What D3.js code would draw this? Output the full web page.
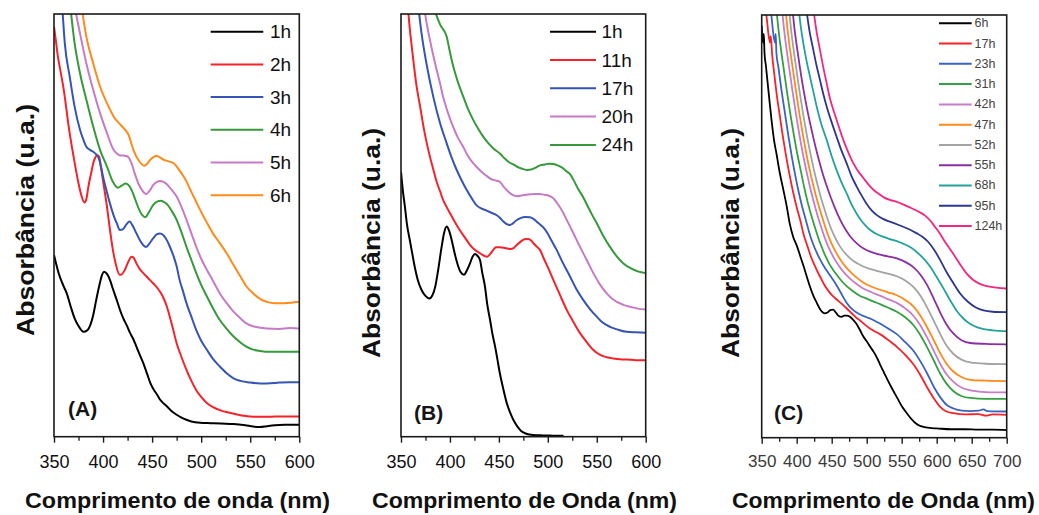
<!DOCTYPE html>
<html><head><meta charset="utf-8">
<script src="https://cdn.jsdelivr.net/npm/d3@7"></script>
<style>
body{margin:0;background:#fff;}
svg{display:block;font-family:"Liberation Sans",Arial,sans-serif;}
</style>
</head><body>
<svg id="chart" width="1039" height="515"></svg>
<script>
// ---------- tick labels ----------
const xTicksAB = [350,400,450,500,550,600];
const xMinorAB = [375,425,475,525,575];
const xTicksC = [350,400,450,500,550,600,650,700];
const xMinorC = [375,425,475,525,575,625,675];

// ---------- Panel A (1h..6h) ----------
const labelsA = ["1h","2h","3h","4h","5h","6h"];
const colorsA = ["#000000","#f5222a","#3455b5","#36993a","#c77bc6","#ff8a1c"];
const a1h = [[350,43.0],[355,38.5],[360,35.5],[363,33.9],[367,30.8],[371,28.0],[375,26.2],[380,24.8],[384,25.2],[387,26.4],[390,28.8],[393,32.3],[396,35.6],[399,38.3],[401,39.0],[404,38.5],[407,37.1],[410,35.0],[414,32.3],[418,29.5],[421,27.8],[424,26.4],[427,24.8],[431,23.0],[434,21.3],[437,19.6],[441,17.4],[445,14.8],[448,12.8],[452,11.0],[455,10.0],[458,8.8],[462,7.8],[465,7.2],[470,6.0],[475,5.2],[480,4.5],[485,4.0],[490,3.6],[499,3.3],[510,3.2],[520,3.1],[533,3.0],[545,2.7],[553,2.4],[560,2.3],[567,2.5],[575,2.7],[585,2.8],[600,2.8]];
const a2h = [[350,97.0],[352,93.5],[354,89.9],[357,86.0],[360,82.0],[365,73.3],[370,66.2],[375,59.9],[378,57.0],[381,55.4],[383,56.2],[385,59.1],[388,62.5],[390,64.7],[392,66.0],[394,66.6],[396,66.2],[398,63.5],[401,59.0],[404,54.4],[407,49.0],[410,44.2],[413,40.8],[417,38.3],[419,38.4],[422,39.4],[425,41.0],[429,42.6],[431,42.4],[434,41.0],[437,39.8],[441,38.7],[446,37.5],[451,36.3],[456,35.0],[461,33.1],[465,30.8],[468,28.4],[471,25.8],[475,22.1],[480,18.8],[485,15.8],[490,13.2],[495,11.0],[500,9.4],[506,7.9],[512,7.0],[519,6.3],[530,5.6],[540,5.1],[550,4.8],[560,4.7],[570,4.7],[580,4.8],[590,4.8],[600,4.8]];
const a3h = [[358.8,100.3],[361,93.1],[366,85.2],[371,78.1],[376.5,72.6],[380,70.2],[383,68.6],[387,67.8],[390,67.4],[393,66.8],[395,66.2],[398,63.8],[400,61.5],[404,57.8],[407,55.2],[411,52.2],[414,50.5],[417,48.9],[420,49.0],[424,50.3],[427,50.9],[430,50.0],[434,48.1],[438,46.3],[441,45.3],[444,44.9],[447,45.6],[451,46.9],[455,47.9],[458,48.1],[461,47.8],[465,46.5],[468,45.0],[472,42.6],[475,40.3],[478,37.1],[481,34.8],[485,31.6],[490,28.4],[495,25.2],[500,22.7],[506,20.5],[512,18.4],[519,16.6],[526,15.0],[533,13.8],[540,13.2],[550,12.8],[560,12.6],[567,12.6],[580,12.8],[590,12.9],[600,12.9]];
const a4h = [[367.3,100.3],[371,93.1],[376.5,86.0],[383,79.7],[390,73.3],[397,67.8],[404,63.9],[410,60.3],[415,58.9],[419,59.4],[423,59.9],[426,59.5],[429,58.4],[433,56.0],[437,53.6],[440,52.4],[443,51.9],[447,53.2],[451,54.8],[455,55.6],[459,55.8],[463,55.4],[466,54.8],[470,53.4],[475,51.3],[480,48.3],[485,44.9],[490,41.8],[495,38.7],[500,35.9],[506,33.1],[512,30.4],[519,27.6],[526,25.5],[533,23.7],[540,22.3],[546,21.3],[553,20.6],[560,20.3],[570,20.1],[580,20.1],[600,20.1]];
const a5h = [[372.3,100.3],[376.5,95.4],[383,88.3],[390,82.0],[397,76.5],[404,71.8],[410,68.2],[414,67.0],[417,66.6],[421,66.5],[424,66.4],[427,65.7],[429,64.7],[432,62.5],[436,59.9],[440,58.2],[444,57.4],[448,58.4],[451,59.5],[455,60.3],[458,60.5],[462,60.2],[466,59.5],[470,58.4],[475,56.8],[480,54.3],[485,51.3],[490,48.1],[495,44.9],[500,42.1],[506,39.4],[512,36.9],[519,33.9],[526,31.6],[533,29.6],[540,28.0],[546,26.8],[555,26.0],[567,25.6],[580,25.5],[590,25.7],[600,25.6]];
const a6h = [[379,100.3],[383,94.6],[390,88.3],[397,82.8],[404,78.9],[412,75.3],[417,74.0],[421,73.0],[426,71.4],[431,67.8],[437,65.1],[442,64.1],[445,64.6],[448,65.5],[451,66.1],[454,66.4],[458,66.1],[461,65.6],[466,65.2],[472,64.7],[476,63.6],[480,62.3],[485,60.4],[489,58.4],[494,56.0],[499,53.6],[505,51.0],[512,48.1],[519,45.8],[526,43.4],[533,40.6],[540,37.9],[546,35.6],[553,33.9],[560,32.6],[567,31.9],[575,31.6],[585,31.6],[592,31.7],[600,31.9]];

// ---------- Panel B (1h..24h) ----------
const labelsB = ["1h","11h","17h","20h","24h"];
const colorsB = ["#000000","#f5222a","#3455b5","#c77bc6","#36993a"];
const b1h = [[350,62.7],[352,58.0],[354,54.4],[356,50.4],[359,46.5],[362,42.7],[364,40.2],[367,37.2],[371,34.7],[375,33.3],[379,32.7],[382,33.4],[385,35.5],[388,39.5],[391.5,44.9],[394,48.2],[396.7,49.7],[399,48.8],[401.8,46.5],[405,43.2],[408.6,40.2],[411,38.9],[414.4,38.3],[417,39.2],[420.5,41.0],[423,42.5],[425.6,43.2],[428,42.8],[430.7,41.8],[433,38.8],[435.8,35.5],[438,31.5],[441,27.6],[443.5,24.2],[446,21.5],[448.5,18.3],[451,15.0],[454,11.8],[458,8.0],[461,6.0],[465,3.9],[469,2.4],[473,1.3],[478,0.7],[485,0.4],[495,0.3],[505,0.25],[516,0.2]];
const b11h = [[357.5,100.3],[359,96.5],[361,92.3],[366,82.8],[370,77.5],[373,73.3],[376,69.8],[379.6,66.2],[383,63.2],[386.4,60.3],[390,58.0],[393,56.0],[396,54.6],[400,52.9],[405,50.8],[410,48.9],[415,47.2],[420.5,45.4],[425,44.3],[430.7,43.4],[435,42.8],[438,42.6],[441,43.2],[444,44.1],[447,44.8],[451,44.8],[455,44.7],[459,44.5],[462,44.4],[465,44.6],[468,45.3],[472,46.1],[476,46.7],[480,46.8],[483,46.4],[486,45.6],[489,44.9],[492,44.2],[496,42.1],[500,40.1],[505.6,37.1],[512.5,33.5],[519.3,30.0],[526,27.2],[532.9,24.5],[540,22.3],[546.5,20.5],[553,19.4],[560.2,18.8],[567,18.5],[573.7,18.3],[585,18.2],[592,18.1],[600,18.1]];
const b17h = [[368.4,100.3],[371,95.4],[376,88.3],[383,80.4],[390,74.1],[396.7,69.4],[401,66.5],[406.9,63.1],[412,60.6],[417,58.4],[422,56.5],[427,54.8],[432,54.0],[437.5,53.5],[442,53.0],[447.8,52.4],[451,51.8],[454.6,50.9],[458,50.3],[461.4,50.1],[464,50.4],[468,51.2],[472,51.7],[476.7,52.0],[481.8,51.9],[486,51.4],[490,50.6],[495.4,49.5],[500,48.0],[504,46.3],[509,44.2],[515,41.3],[522.7,37.9],[529,35.0],[536.3,32.3],[543,30.2],[550,28.4],[556,27.0],[563.5,26.0],[572,25.3],[580.6,24.8],[590,24.7],[600,24.6]];
const b20h = [[374.5,100.3],[377,96.8],[379.6,93.8],[383,90.2],[386.4,86.8],[390,83.5],[393,80.4],[398,76.6],[403.3,73.3],[408,70.8],[413.5,68.6],[418,66.6],[423.7,64.7],[429,63.4],[434,62.3],[438,61.6],[442.5,60.9],[447,60.6],[451,60.3],[455,59.1],[460,57.9],[464,57.2],[468.2,56.9],[474,57.1],[480,57.3],[486,57.4],[492,57.4],[497,57.2],[501,57.0],[505.6,56.4],[510,55.1],[515,53.3],[519.3,51.3],[526,48.2],[532.9,44.9],[540,41.7],[546.5,38.7],[553,36.1],[560.2,33.9],[567,32.4],[577.2,31.2],[585,30.7],[592,30.3],[600,30.1]];
const b24h = [[385.2,100.3],[390,97.5],[396.7,94.6],[400,91.0],[403.5,87.5],[408,84.0],[413.7,80.4],[418,77.8],[423.9,74.9],[429,72.8],[434,71.0],[439,69.5],[444.3,68.2],[451,67.0],[456,65.8],[460,65.0],[464.8,64.4],[470,63.7],[475,63.3],[479,63.1],[483,63.2],[487,63.6],[492,64.2],[497,64.4],[501,64.6],[505.6,64.5],[510,64.2],[515,63.6],[518,63.0],[522.7,62.1],[527,60.4],[531,58.6],[536.3,56.6],[541,54.4],[545,52.6],[550,50.5],[556,47.8],[563.5,44.9],[570,42.8],[577.2,41.0],[585,39.8],[592,39.1],[600,38.7]];

// ---------- Panel C (6h..124h) ----------
const labelsC = ["6h","17h","23h","31h","42h","47h","52h","55h","68h","95h","124h"];
const colorsC = ["#000000","#f5222a","#3a62c4","#35a040","#c67dc8","#ff8a1c","#a3a3a3","#8b2fa0","#23a29b","#2d3592","#f2277f"];
const c6h = [[350,97.5],[351,95.0],[352,93.5],[353,95.5],[354,91.0],[356,88.0],[360,81.5],[364,75.2],[368,70.0],[371,67.3],[376,62.5],[381,58.6],[386,54.5],[390,50.7],[395,47.5],[400,45.5],[405,43.0],[410,40.5],[415,37.8],[419,35.7],[424,33.5],[429,31.8],[433,30.5],[436,29.8],[440,29.4],[444,29.6],[448,30.2],[452,30.3],[456,29.6],[460,28.8],[464,28.6],[468,28.9],[472,28.9],[476,28.6],[480,28.0],[485,27.0],[490,25.6],[495,24.0],[500,22.8],[505,21.5],[510,20.3],[515,18.8],[520,17.0],[525,15.3],[530,13.6],[535,12.0],[540,10.5],[545,9.0],[550,7.5],[555,6.3],[560,5.2],[565,4.2],[570,3.4],[575,2.9],[580,2.6],[590,2.3],[600,2.2],[620,2.0],[640,2.0],[660,1.9],[680,1.9],[700,1.8]];
const c17h = [[356,101],[358,98.0],[360,95.0],[362,93.5],[363,95.0],[365,90.5],[368,86.0],[372,80.5],[376,76.0],[380,71.5],[385,66.5],[390,62.0],[395,58.0],[400,54.5],[405,51.5],[410,48.0],[415,45.5],[420,43.0],[425,41.0],[430,39.2],[435,37.6],[440,36.0],[445,34.8],[450,33.8],[455,33.0],[460,32.3],[465,31.6],[470,30.8],[475,30.0],[480,29.2],[485,28.4],[490,27.8],[495,27.1],[500,26.4],[505,25.8],[510,25.3],[519,24.5],[530,23.2],[543,21.5],[555,19.6],[567,17.3],[577,14.7],[586,12.0],[596,9.3],[605,7.3],[614,6.2],[624,5.8],[640,5.5],[660,5.6],[670,5.2],[680,5.5],[700,5.4]];
const c23h = [[363.5,100.5],[365,98.0],[367,95.0],[369,93.5],[370,95.5],[371,91.0],[374,87.5],[378,82.5],[383,77.0],[388,71.5],[393,66.5],[398,62.0],[403,58.0],[408,54.5],[413,51.5],[418,48.5],[423,46.0],[428,44.0],[433,42.3],[438,40.8],[443,39.5],[448,38.3],[455,36.6],[462,34.6],[471,32.0],[480,30.3],[490,29.2],[500,28.5],[510,27.8],[519,27.0],[530,25.9],[543,24.5],[555,22.6],[567,20.5],[577,18.0],[586,15.3],[596,12.0],[605,9.6],[614,7.8],[624,6.9],[636,6.4],[648,6.3],[660,6.4],[667,6.7],[672,6.3],[700,6.2]];
const c31h = [[371.5,100.5],[374,96.5],[377,92.5],[381,87.8],[386,82.0],[391,76.5],[396,71.5],[401,67.0],[406,63.0],[411,59.0],[416,55.5],[421,52.5],[426,49.8],[431,47.2],[436,45.0],[441,43.0],[447,41.0],[455,39.0],[463,37.3],[471,35.9],[480,34.7],[490,33.6],[500,32.9],[510,32.2],[519,31.6],[530,30.8],[543,29.8],[555,28.5],[567,26.6],[577,24.2],[586,21.5],[596,18.2],[605,15.2],[614,12.8],[624,11.0],[636,9.8],[648,9.4],[670,9.2],[700,9.2]];
const c42h = [[379.5,100.5],[382,96.5],[385,92.5],[389,87.8],[394,82.0],[399,76.5],[404,71.5],[409,67.0],[414,63.0],[419,59.3],[424,56.0],[429,53.0],[434,50.3],[439,47.8],[444,45.6],[450,43.5],[458,41.2],[466,39.4],[475,37.8],[485,36.4],[495,35.3],[507,34.4],[519,33.6],[530,32.8],[543,31.9],[555,30.6],[567,28.8],[577,26.5],[586,23.8],[596,20.5],[605,17.5],[614,15.0],[624,13.2],[636,11.8],[648,11.2],[670,10.8],[700,10.7]];
const c47h = [[384.5,100.5],[387,96.5],[390,92.5],[394,87.8],[399,82.0],[404,76.5],[409,71.5],[414,67.0],[419,63.0],[424,59.5],[429,56.3],[434,53.5],[439,50.8],[444,48.3],[449,46.2],[455,44.2],[462,42.2],[470,40.4],[478,39.0],[487,37.7],[495,36.7],[507,35.7],[519,35.0],[530,34.4],[543,33.7],[555,32.6],[567,31.0],[577,28.8],[586,26.2],[596,23.0],[605,20.0],[614,17.5],[624,15.6],[636,14.3],[648,13.7],[670,13.5],[700,13.4]];
const c52h = [[389.5,100.5],[392,96.5],[395,92.5],[399,87.8],[404,82.0],[409,76.8],[414,72.0],[419,67.7],[424,63.8],[429,60.3],[434,57.2],[439,54.4],[444,51.8],[449,49.5],[455,47.3],[462,45.2],[470,43.5],[478,42.2],[487,41.2],[495,40.5],[507,39.8],[519,39.3],[530,38.8],[543,38.2],[555,37.2],[567,35.6],[577,33.5],[586,30.9],[596,27.6],[605,24.5],[614,21.8],[624,19.8],[636,18.4],[648,17.8],[670,17.5],[700,17.4]];
const c55h = [[394.5,100.5],[397,96.5],[400,92.8],[404,88.2],[409,83.0],[414,78.5],[419,74.5],[424,70.8],[429,67.4],[434,64.3],[439,61.5],[444,59.0],[449,56.7],[455,54.2],[462,51.6],[470,49.2],[478,47.3],[487,45.8],[495,44.8],[507,43.9],[519,43.3],[530,42.9],[543,42.4],[555,41.6],[567,40.3],[577,38.5],[586,36.2],[596,32.8],[605,29.6],[614,26.8],[624,24.6],[636,23.0],[648,22.4],[670,22.2],[700,22.1]];
const c68h = [[403.5,100.5],[406,97.0],[409.5,93.3],[414,89.2],[419,85.4],[424,81.7],[428.6,78.3],[435,74.3],[442.9,70.4],[450,66.6],[457,63.3],[464,60.4],[471.4,57.8],[478,55.3],[485.7,53.0],[493,51.2],[500,49.9],[507,48.9],[514,48.2],[524,47.5],[533,47.0],[543,46.5],[552,45.9],[562,45.1],[571,44.0],[580,42.6],[590,40.6],[600,38.0],[610,35.2],[620,32.3],[629,29.9],[638,28.2],[648,26.9],[658,26.1],[667,25.7],[680,25.4],[700,25.2]];
const c95h = [[414.5,100.5],[418,96.5],[423.8,91.7],[428,88.3],[433.3,84.6],[438,81.3],[442.9,78.3],[450,74.6],[457,71.2],[464,67.9],[471.4,64.9],[478,62.0],[485.7,59.4],[493,57.2],[500,55.3],[507,53.8],[515,52.6],[524,51.7],[533,51.1],[543,50.5],[552,49.9],[562,49.2],[571,48.4],[580,47.5],[588,46.3],[597,44.3],[605,42.0],[614,39.2],[624,36.5],[634,34.0],[645,32.1],[656,30.8],[667,30.1],[680,29.8],[700,29.7]];
const c124h = [[424.5,100.5],[428,96.5],[433.3,91.7],[438,87.6],[442.9,83.8],[447,80.6],[452.4,77.5],[460,73.7],[466.7,70.4],[474,67.4],[481,64.9],[488,63.0],[495,61.5],[502,60.0],[510,58.6],[518,57.6],[525,56.8],[534,56.2],[543,55.8],[552,55.2],[560,54.6],[568,54.0],[575,53.4],[583,52.6],[590,51.5],[597,50.0],[605,48.2],[612,46.3],[620,44.4],[628,42.4],[635,40.6],[642,39.0],[650,37.6],[660,36.5],[670,35.9],[685,35.5],[700,35.3]];

// ---------- build panels ----------
const svg = d3.select("#chart");

const panels = [
  {id:"A", left:54, right:299.3, top:14, bottom:436.7, xDomain:[350,600], ticks:xTicksAB, minor:xMinorAB,
   series:[a1h,a2h,a3h,a4h,a5h,a6h], labels:labelsA, colors:colorsA, lw:2,
   tickFont:18, tickOff:31.6, tickColor:"#111",
   legend:{x1:210.7,x2:263.3,tx:270,y0:31.7,dy:32.7,font:19,color:"#111",lw:2},
   tag:{x:68,y:416,text:"(A)"},
   xTitle:{x:25,len:305,text:"Comprimento de onda (nm)"},
   yTitle:{x:34,y:220,len:232}},
  {id:"B", left:401, right:645.7, top:14, bottom:436.7, xDomain:[350,600], ticks:xTicksAB, minor:xMinorAB,
   series:[b1h,b11h,b17h,b20h,b24h], labels:labelsB, colors:colorsB, lw:2,
   tickFont:18, tickOff:31.6, tickColor:"#111",
   legend:{x1:550,x2:596,tx:601.5,y0:31.7,dy:28.3,font:19,color:"#111",lw:2},
   tag:{x:414,y:420,text:"(B)"},
   xTitle:{x:372,len:305,text:"Comprimento de Onda (nm)"},
   yTitle:{x:380,y:243,len:230}},
  {id:"C", left:761.7, right:1006.7, top:15, bottom:437.7, xDomain:[350,700], ticks:xTicksC, minor:xMinorC,
   series:[c6h,c17h,c23h,c31h,c42h,c47h,c52h,c55h,c68h,c95h,c124h], labels:labelsC, colors:colorsC, lw:1.8,
   tickFont:17, tickOff:29, tickColor:"#3a3a3a",
   legend:{x1:939,x2:971.7,tx:974.5,y0:23.3,dy:20.27,font:12.5,color:"#444",lw:2},
   tag:{x:774,y:420,text:"(C)"},
   xTitle:{x:732,len:303,text:"Comprimento de Onda (nm)"},
   yTitle:{x:739,y:243,len:230}}
];

panels.forEach(p => {
  const x = d3.scaleLinear().domain(p.xDomain).range([p.left, p.right]);
  const y = d3.scaleLinear().domain([0,100]).range([p.bottom, p.top]);
  const g = svg.append("g");

  g.append("clipPath").attr("id","clip"+p.id)
    .append("rect").attr("x",p.left).attr("y",p.top)
    .attr("width",p.right-p.left).attr("height",p.bottom-p.top);

  const line = d3.line().x(d=>x(d[0])).y(d=>y(d[1])).curve(d3.curveMonotoneX);
  g.append("g").attr("clip-path","url(#clip"+p.id+")")
    .selectAll("path").data(p.series).join("path")
    .attr("d", line).attr("fill","none")
    .attr("stroke",(d,i)=>p.colors[i]).attr("stroke-width",p.lw)
    .attr("stroke-linejoin","round");

  // frame
  g.append("rect").attr("x",p.left).attr("y",p.top)
    .attr("width",p.right-p.left).attr("height",p.bottom-p.top)
    .attr("fill","none").attr("stroke","#1a1a1a").attr("stroke-width",1.6);

  // axes
  const ax = g.append("g").attr("transform",`translate(0,${p.bottom})`)
    .call(d3.axisBottom(x).tickValues(p.ticks).tickSize(6).tickFormat(d3.format("d")));
  ax.select(".domain").remove();
  ax.selectAll(".tick line").attr("stroke","#1a1a1a").attr("stroke-width",1.4);
  ax.selectAll("text").attr("y",p.tickOff).attr("dy",null)
    .attr("font-size",p.tickFont).attr("fill",p.tickColor)
    .attr("font-family","'Liberation Sans',Arial,sans-serif");
  const axm = g.append("g").attr("transform",`translate(0,${p.bottom})`)
    .call(d3.axisBottom(x).tickValues(p.minor).tickSize(4).tickFormat(""));
  axm.select(".domain").remove();
  axm.selectAll(".tick line").attr("stroke","#1a1a1a").attr("stroke-width",1.3);

  // legend
  const L = p.legend;
  const lg = g.append("g");
  p.labels.forEach((lab,i) => {
    const yy = L.y0 + i*L.dy;
    lg.append("line").attr("x1",L.x1).attr("x2",L.x2).attr("y1",yy).attr("y2",yy)
      .attr("stroke",p.colors[i]).attr("stroke-width",L.lw);
    lg.append("text").attr("x",L.tx).attr("y",yy).attr("dominant-baseline","central")
      .attr("font-size",L.font).attr("fill",L.color).text(lab);
  });

  // panel tag
  g.append("text").attr("x",p.tag.x).attr("y",p.tag.y)
    .attr("font-size",21).attr("font-weight","bold").attr("fill","#151515").text(p.tag.text);

  // x title
  g.append("text").attr("x",p.xTitle.x).attr("y",508)
    .attr("font-size",22).attr("font-weight","bold").attr("fill","#111")
    .attr("textLength",p.xTitle.len).attr("lengthAdjust","spacingAndGlyphs")
    .text(p.xTitle.text);

  // y title
  g.append("text").attr("transform",`translate(${p.yTitle.x},${p.yTitle.y}) rotate(-90)`)
    .attr("text-anchor","middle")
    .attr("font-size",23).attr("font-weight","bold").attr("fill","#111")
    .attr("textLength",p.yTitle.len).attr("lengthAdjust","spacingAndGlyphs")
    .text("Absorbância (u.a.)");
});
</script>
</body></html>
